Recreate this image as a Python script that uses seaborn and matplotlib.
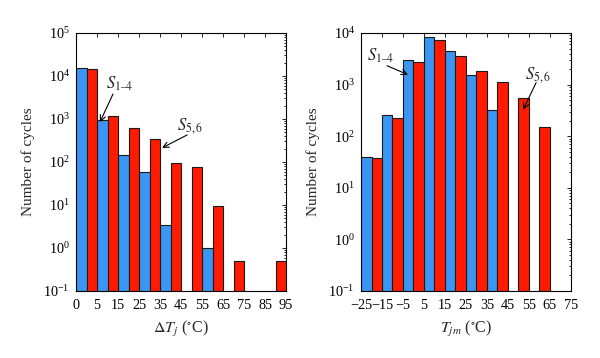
import numpy as np
import pandas as pd
import matplotlib
matplotlib.use("Agg")
import matplotlib.pyplot as plt
import seaborn as sns

# --- data (cycle counts per bin) ---
dtj_labels = ["0", "5", "15", "25", "35", "45", "55", "65", "75", "85", "95"]
dtj_bins = list(range(10))
dtj_s14 = [1.55e4, 950, 145, 58, 3.4, np.nan, 1.0, np.nan, np.nan, np.nan]
dtj_s56 = [1.45e4, 1.2e3, 620, 350, 95, 76, 9.5, 0.5, np.nan, 0.5]

tjm_labels = ["\u221225", "\u221215", "\u22125", "5", "15", "25", "35", "45", "55", "65", "75"]
tjm_bins = list(range(10))
tjm_s14 = [39, 255, 2950, 8400, 4400, 1500, 315, np.nan, np.nan, np.nan]
tjm_s56 = [38, 222, 2760, 7400, 3600, 1850, 1100, 540, 150, np.nan]

series = ["S1-4", "S5,6"]
palette = {"S1-4": "#3A96F2", "S5,6": "#FF1A00"}

LBL_14 = "$S_{\\mathrm{1\u20134}}$"
LBL_56 = "$S_{\\mathrm{5,6}}$"


def to_long(bins, a, b):
    df = pd.DataFrame({"bin": bins * 2,
                       "count": a + b,
                       "series": [series[0]] * len(a) + [series[1]] * len(b)})
    return df.dropna()


sns.set_style("white")
plt.rcParams["font.family"] = ["Liberation Serif", "DejaVu Serif"]
plt.rcParams["mathtext.fontset"] = "stix"
plt.rcParams["xtick.direction"] = "in"
plt.rcParams["ytick.direction"] = "in"

fig = plt.figure(figsize=(6.0, 3.58), dpi=100)
ax1 = fig.add_axes([0.1267, 0.1872, 0.35, 0.7207])
ax2 = fig.add_axes([0.6017, 0.1872, 0.3495, 0.7207])


def draw(ax, df, labels, ymin, ymax, xlabel):
    sns.barplot(data=df, x="bin", y="count", hue="series", hue_order=series,
                order=list(range(10)), palette=palette, width=1.0,
                edgecolor="#1a1a1a", linewidth=0.8, saturation=1,
                legend=False, ax=ax)
    ax.set_yscale("log")
    ax.set_ylim(ymin, ymax)
    ax.set_xlim(-0.5, 9.5)
    ax.set_xticks(np.arange(11) - 0.5)
    ax.set_xticklabels(labels)
    ax.tick_params(axis="both", which="both", top=True, right=True,
                   length=3, width=0.6, colors="black", labelsize=10.3)
    ax.tick_params(axis="x", pad=5.5)
    ax.tick_params(axis="y", pad=4.5)
    ax.tick_params(axis="y", which="minor", length=1.5)
    ax.tick_params(axis="x", which="minor", bottom=False, top=False)
    ax.set_axisbelow(True)
    for s in ax.spines.values():
        s.set_color("black")
        s.set_linewidth(0.8)
    ax.set_xlabel(xlabel, fontsize=11.5, labelpad=5)
    ax.set_ylabel("Number of cycles", fontsize=11, labelpad=6)


draw(ax1, to_long(dtj_bins, dtj_s14, dtj_s56), dtj_labels, 0.1, 1e5,
     r"$\Delta T_j$ ($^{\circ}$C)")
draw(ax2, to_long(tjm_bins, tjm_s14, tjm_s56), tjm_labels, 0.1, 1e4,
     r"$T_{jm}$ ($^{\circ}$C)")

arrow = dict(arrowstyle="->", lw=0.8, color="black", shrinkA=0, shrinkB=0)

# left panel annotations
ax1.text(1.6, 6500, LBL_14, fontsize=12, ha="center", va="center")
ax1.annotate("", xy=(0.64, 850), xytext=(1.26, 3800), arrowprops=arrow)
ax1.text(4.95, 700, LBL_56, fontsize=12, ha="center", va="center")
ax1.annotate("", xy=(3.6, 213), xytext=(4.79, 425), arrowprops=arrow)

# right panel annotations
ax2.text(0.42, 3640, LBL_14, fontsize=12, ha="center", va="center")
ax2.annotate("", xy=(1.74, 1555), xytext=(0.74, 2320), arrowprops=arrow)
ax2.text(7.95, 1555, LBL_56, fontsize=12, ha="center", va="center")
ax2.annotate("", xy=(7.23, 326), xytext=(7.85, 1090), arrowprops=arrow)

fig.savefig("out.png", dpi=100)
